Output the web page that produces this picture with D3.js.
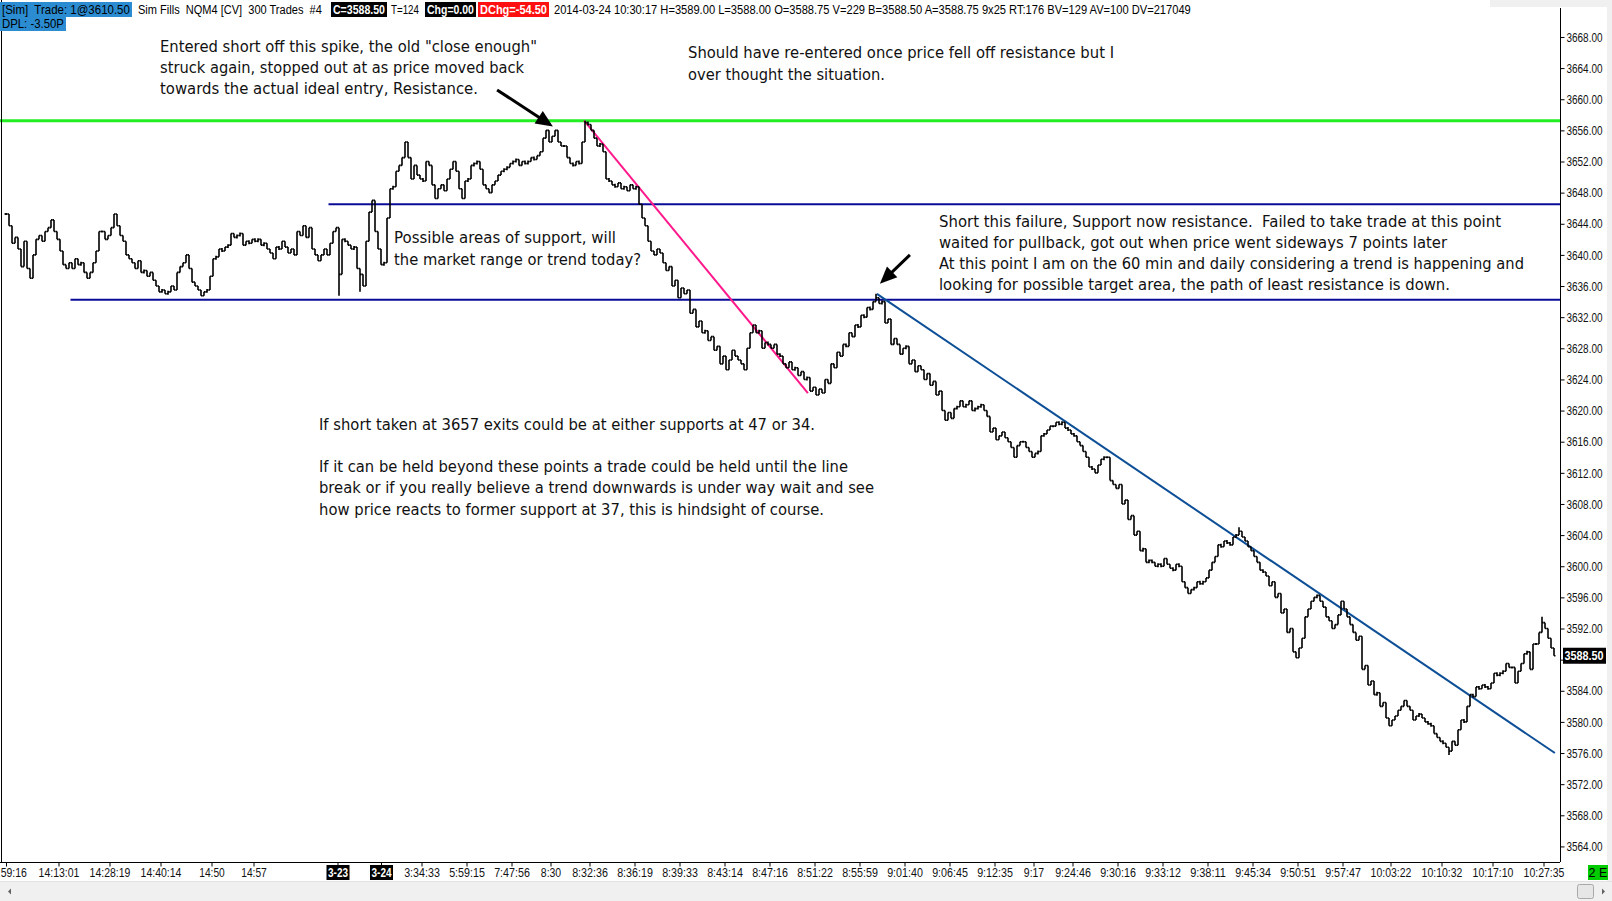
<!DOCTYPE html>
<html><head><meta charset="utf-8">
<script src="https://cdn.jsdelivr.net/npm/d3@7"></script>
<style>
html,body{margin:0;padding:0;background:#fff;overflow:hidden;}
svg{display:block;}
text{white-space:pre;}
</style></head>
<body>
<svg id="chart" width="1612" height="901"></svg>
<script>
// ---------------- DATA ----------------
// Close of each 300-tick bar (NQM4)
const closes = [
3645.25,3643.75,3641.5,3642.25,3640.75,3638.5,3641.75,3638.25,3637,3640,
3642,3642.5,3641.75,3643,3643.5,3644.5,3643,3642,3640.5,3638.75,
3638.25,3639,3638.25,3639.5,3638.75,3639,3637.75,3637,3637.75,3639,
3640.5,3643,3643,3642,3642.5,3643.5,3645.25,3643.75,3642.5,3641.75,
3640,3639.5,3639,3638.25,3639.25,3637.75,3638,3637.25,3637.75,3636.75,
3636,3635.25,3635.5,3635,3635.25,3636,3635.5,3637.75,3638.5,3639,
3640,3638.25,3636.5,3636,3635.5,3634.75,3635.25,3635.5,3637.25,3639.5,
3639.75,3640.75,3640.5,3641,3641.25,3642.75,3642.25,3642.5,3642.75,3641.25,
3641.75,3641.5,3642,3641.75,3642,3641.25,3641.5,3640.75,3640.25,3639.5,
3641,3640.75,3641.75,3641,3640.25,3640.75,3640,3643,3642.5,3643.75,
3642.25,3643.5,3640.75,3640,3639.25,3640,3640.75,3640,3641.5,3643,
3643.5,3637.5,3642,3641.75,3641.25,3640.75,3641,3638.25,3637.5,3636,
3641.75,3645.5,3647,3643,3640.75,3638.75,3639,3644.75,3648.5,3648.75,
3650.75,3651.5,3652.5,3654.5,3652.5,3649.75,3651.5,3650.25,3649.75,3649.5,
3652,3651.5,3649,3647.25,3648.5,3649,3648.25,3649.75,3651,3652,
3650.75,3648.5,3647.25,3649.5,3649.75,3651.5,3651.75,3652,3651,3649,
3648.5,3648,3649,3649.5,3650.25,3650.75,3651,3651.25,3651.75,3652,
3652.25,3651.5,3652,3651.75,3652,3652.5,3652.25,3652.75,3653.25,3655,
3656,3654.5,3655.25,3656,3654.5,3654,3654,3652.5,3651.75,3651.5,
3652,3651.75,3654.5,3657,3656.75,3656,3655,3654,3654.25,3653.25,
3649.75,3649.5,3649,3648.75,3649.25,3648.5,3648.75,3648.25,3649,3648.5,
3648.75,3646.5,3644.75,3643.75,3641.75,3640.5,3640,3640.75,3640.25,3639,
3638,3638.5,3636,3636.75,3634.5,3635.75,3635,3635.5,3632.5,3633,
3630.75,3631.5,3630,3630.25,3629,3629.5,3627.75,3628.25,3626,3627,
3625.25,3626.5,3627.75,3627,3626.5,3626,3625.25,3628,3630,3631,
3630,3630.25,3628,3628.75,3628.5,3628,3628.5,3627.25,3627,3626,
3625.5,3626.25,3625.25,3625.5,3624.5,3625,3624,3624.25,3622.5,3623,
3622,3622.75,3622.25,3624,3623.5,3626,3625.5,3627.5,3627,3628.5,
3628.25,3630,3629.5,3631,3630.75,3632.25,3632,3633.25,3633,3634,
3634.5,3633.75,3634,3631.25,3631.75,3628.5,3629.25,3628.5,3627.25,3628,
3628.25,3626,3626.5,3625,3625.75,3625.25,3624,3624.75,3623.25,3623.75,
3622,3622.5,3620,3618.75,3619.75,3619,3620.25,3620.5,3621.25,3620.5,
3620.75,3621.25,3620,3620.25,3620.5,3620.75,3620,3619.25,3617.25,3617.75,
3616.25,3616.75,3617.25,3616.5,3616,3615.25,3614,3615.5,3616,3616,
3615.25,3614.75,3614,3614.5,3614.75,3616.75,3617,3617.5,3618,3618,
3618.5,3618.25,3618.5,3617.75,3617.5,3617,3616.75,3616,3615.5,3614.75,
3614,3612.75,3612.5,3612,3613,3613.75,3614,3614,3611,3610.5,
3610,3610.5,3608,3608.5,3606,3606.5,3604,3604.5,3602,3602.25,
3600.5,3600.75,3600.5,3600,3600.25,3600,3601,3600.25,3599.75,3599.5,
3600.25,3600,3598,3597.25,3596.5,3597,3597.25,3598,3597.75,3598,
3598.5,3599.5,3600.5,3601.25,3602.75,3602.5,3603.25,3603,3602.75,3603.75,
3604,3604.5,3603.75,3603.25,3602.5,3602,3601.25,3600.5,3599.5,3599.25,
3598.75,3597.5,3598,3596,3596.5,3594,3594.5,3591.5,3592,3589,
3588.25,3589.5,3590.75,3593.5,3594.5,3595.5,3596,3596.25,3595.5,3594.75,
3593.5,3593,3592,3592.5,3593.75,3595.5,3594.5,3593.5,3592.5,3591.5,
3590.5,3591,3586.75,3587.25,3584.75,3585.25,3583.5,3583.75,3582,3582.5,
3580.5,3579.5,3580.25,3580.75,3581.5,3582,3582.75,3582,3581.5,3580.25,
3580.75,3581,3580.5,3580,3579.75,3579.5,3578.5,3578,3577.5,3577.25,
3576.75,3576.25,3577.5,3577,3579,3580.25,3580,3582,3583.5,3583.25,
3584.5,3584.25,3584.75,3584.5,3584.25,3585,3586.25,3586,3586.25,3586.5,
3587.5,3587,3587,3585,3586.5,3587.5,3588.75,3589,3586.75,3590,
3590,3591.5,3592.75,3592,3590.75,3589.5,3588.5
];
// bars whose wick reaches beyond open/close
const spikeIdx = [111, 118, 193, 290, 411, 481, 512];
const spikeVal = [3634.75, 3635.25, 3657.25, 3635, 3605, 3575.75, 3593.5];

// price axis ticks
const yTickValues = [3564,3568,3572,3576,3580,3584,3588,3592,3596,3600,3604,3608,3612,3616,
  3620,3624,3628,3632,3636,3640,3644,3648,3652,3656,3660,3664,3668];
// time axis ticks (bar index) and their labels
const xTickIdx = [0,17.5,34.5,51.5,68.5,82.5,110.5,125,138.5,153.5,168.5,181.5,194.5,209.5,
  224.5,239.5,254.5,269.5,284.5,299.5,314.5,329.5,342.5,355.5,370.5,385.5,400.5,415.5,430.5,
  445.5,461.5,478.5,495.5,512.5];
const xTickLabels = ["13:59:16","14:13:01","14:28:19","14:40:14","14:50","14:57","3-23","3-24",
  "3:34:33","5:59:15","7:47:56","8:30","8:32:36","8:36:19","8:39:33","8:43:14","8:47:16",
  "8:51:22","8:55:59","9:01:40","9:06:45","9:12:35","9:17","9:24:46","9:30:16","9:33:12",
  "9:38:11","9:45:34","9:50:51","9:57:47","10:03:22","10:10:32","10:17:10","10:27:35"];
const dateMarkers = ["3-23","3-24"];

// drawn horizontal levels (resistance, supports) and start bar
const levelValues = [3657.25, 3646.5, 3634.25];
const levelStart = [-3, 107.5, 21.5];
// drawn trend lines [barIndex, price]
const pinkLine = [[192.7, 3657.25], [267.3, 3622.25]];
const blueTrend = [[290.3, 3635], [516.3, 3576]];
// arrows [from, tip] in [barIndex, price]
const arrowFrom = [[163.7, 3661.2], [301.3, 3640.0]];
const arrowTip  = [[182.3, 3656.5], [291.3, 3636.3]];

const lastPrice = 3588.50;

const annotationText = [
  ['Entered short off this spike, the old "close enough"',
   'struck again, stopped out at as price moved back',
   'towards the actual ideal entry, Resistance.'],
  ['Should have re-entered once price fell off resistance but I',
   'over thought the situation.'],
  ['Possible areas of support, will',
   'the market range or trend today?'],
  ['Short this failure, Support now resistance.  Failed to take trade at this point',
   'waited for pullback, got out when price went sideways 7 points later',
   'At this point I am on the 60 min and daily considering a trend is happening and',
   'looking for possible target area, the path of least resistance is down.'],
  ['If short taken at 3657 exits could be at either supports at 47 or 34.',
   'If it can be held beyond these points a trade could be held until the line',
   'break or if you really believe a trend downwards is under way wait and see',
   'how price reacts to former support at 37, this is hindsight of course.']
];

const headerSegments = [
  {t:"[Sim]  Trade: 1@3610.50", bg:"#2b8cd2", fg:"#000"},
  {t:"Sim Fills  NQM4 [CV]  300 Trades  #4", bg:null, fg:"#000"},
  {t:"C=3588.50", bg:"#000", fg:"#fff", b:true},
  {t:"T=124", bg:null, fg:"#000"},
  {t:"Chg=0.00", bg:"#000", fg:"#fff", b:true},
  {t:"DChg=-54.50", bg:"#ff1010", fg:"#fff", b:true},
  {t:"2014-03-24 10:30:17 H=3589.00 L=3588.00 O=3588.75 V=229 B=3588.50 A=3588.75 9x25 RT:176 BV=129 AV=100 DV=217049", bg:null, fg:"#000"}
];
const header2 = {t:"DPL: -3.50P", bg:"#2b8cd2", fg:"#000"};

// ---------------- LAYOUT ----------------
const W = 1612, H = 901;
const plotRight = 1560, plotBottom = 862;
const headerLayout = [[0,132],[136,188],[331,56],[389,32],[425,51],[478,71],[552,641]];
const annLayout = [
  {x:160, ys:[46,67,88.5], ws:[377,364,318]},
  {x:688, ys:[52.5,74], ws:[426,197]},
  {x:394, ys:[237.5,259], ws:[222,247]},
  {x:939, ys:[221,242,263,284], ws:[562,508,585,511]},
  {x:319, ys:[424,466.5,487.5,509], ws:[496,529,555,505]}
];

const svg = d3.select('#chart');
svg.append('rect').attr('width', W).attr('height', H).attr('fill', '#fff');

const x = d3.scaleLinear().domain([0, closes.length - 1]).range([6, 6 + 3 * (closes.length - 1)]);
const y = d3.scaleLinear().domain([3562, 3672.75]).range([plotBottom, 0]);

svg.append('clipPath').attr('id','plotclip').append('rect')
  .attr('x',0).attr('y',0).attr('width',plotRight).attr('height',plotBottom);
const plot = svg.append('g').attr('clip-path','url(#plotclip)');

// horizontal levels
const levelColors = ['#22ee22', '#0b0b98', '#0b0b98'];
const levelWidths = [3, 2, 2];
levelValues.forEach((v, k) => {
  plot.append('line')
    .attr('x1', x(levelStart[k])).attr('x2', plotRight)
    .attr('y1', y(v)).attr('y2', y(v))
    .attr('stroke', levelColors[k]).attr('stroke-width', levelWidths[k]);
});

// trend lines
plot.append('line')
  .attr('x1', x(pinkLine[0][0])).attr('y1', y(pinkLine[0][1]))
  .attr('x2', x(pinkLine[1][0])).attr('y2', y(pinkLine[1][1]))
  .attr('stroke', '#ff1a8c').attr('stroke-width', 2);
plot.append('line')
  .attr('x1', x(blueTrend[0][0])).attr('y1', y(blueTrend[0][1]))
  .attr('x2', x(blueTrend[1][0])).attr('y2', y(blueTrend[1][1]))
  .attr('stroke', '#0d4f96').attr('stroke-width', 2);

// OHLC bars
const spikeMap = new Map(spikeIdx.map((d, k) => [d, spikeVal[k]]));
const bars = closes.map((c, i) => {
  const o = i === 0 ? c : closes[i - 1];
  let hi = Math.max(o, c), lo = Math.min(o, c);
  if (spikeMap.has(i)) { const s = spikeMap.get(i); hi = Math.max(hi, s); lo = Math.min(lo, s); }
  return {i, o, c, hi, lo};
});
const bg = plot.append('g').attr('stroke', '#000').attr('stroke-width', 1.6).attr('fill', 'none');
bg.selectAll('path').data(bars).join('path')
  .attr('d', d => {
    const xx = x(d.i);
    let y1 = y(d.hi), y2 = y(d.lo);
    if (y2 - y1 < 2) { y1 -= 1; y2 += 1; }
    return `M${xx},${y1}V${y2}M${xx - 1.5},${y(d.o)}H${xx}M${xx},${y(d.c)}H${xx + 1.5}`;
  });

// arrows
arrowFrom.forEach((f, k) => {
  const t = arrowTip[k];
  const x1 = x(f[0]), y1 = y(f[1]), x2 = x(t[0]), y2 = y(t[1]);
  const dx = x2 - x1, dy = y2 - y1, L = Math.hypot(dx, dy);
  const ux = dx / L, uy = dy / L, hl = 17, hw = 7.5;
  const bx = x2 - ux * hl, by = y2 - uy * hl;
  plot.append('line').attr('x1', x1).attr('y1', y1).attr('x2', bx + ux * 2).attr('y2', by + uy * 2)
    .attr('stroke', '#000').attr('stroke-width', 3);
  plot.append('path')
    .attr('d', `M${x2},${y2}L${bx - uy * hw},${by + ux * hw}L${bx + uy * hw},${by - ux * hw}Z`)
    .attr('fill', '#000');
});

// annotations
annotationText.forEach((lines, k) => {
  const L = annLayout[k];
  lines.forEach((ln, j) => {
    plot.append('text')
      .attr('x', L.x).attr('y', L.ys[j]).attr('dy', '0.36em')
      .attr('font-family', '"DejaVu Sans", Verdana, sans-serif')
      .attr('font-size', 15.5).attr('fill', '#111')
      .attr('textLength', L.ws[j]).attr('lengthAdjust', 'spacingAndGlyphs')
      .text(ln);
  });
});

// frame lines
svg.append('line').attr('x1', 1.5).attr('x2', 1.5).attr('y1', 0).attr('y2', plotBottom)
  .attr('stroke', '#000').attr('stroke-width', 1);
svg.append('line').attr('x1', 0).attr('x2', plotRight).attr('y1', plotBottom + 0.5).attr('y2', plotBottom + 0.5)
  .attr('stroke', '#000').attr('stroke-width', 1);
svg.append('line').attr('x1', plotRight + 0.5).attr('x2', plotRight + 0.5).attr('y1', 8).attr('y2', plotBottom)
  .attr('stroke', '#000').attr('stroke-width', 1);

const axisFont = '"Liberation Sans", Arial, sans-serif';
// right price axis (the 3588.00 label sits under the last-price marker)
const yAxis = svg.append('g').attr('transform', `translate(${plotRight + 0.5},0)`)
  .call(d3.axisRight(y).tickValues(yTickValues)
    .tickFormat(d => Math.abs(d - lastPrice) < 1 ? '' : d3.format('.2f')(d)).tickSize(4).tickPadding(2));
yAxis.select('.domain').remove();
yAxis.selectAll('line').attr('stroke', '#000');
yAxis.selectAll('text').attr('font-family', axisFont).attr('font-size', 13).attr('fill', '#111')
  .attr('textLength', 36).attr('lengthAdjust', 'spacingAndGlyphs');

// last price marker
svg.append('rect').attr('x', plotRight + 3).attr('y', y(lastPrice) - 8).attr('width', 43).attr('height', 16).attr('fill', '#000');
svg.append('text').attr('x', plotRight + 4.5).attr('y', y(lastPrice)).attr('dy', '0.36em')
  .attr('font-family', axisFont).attr('font-weight', 'bold').attr('font-size', 13).attr('fill', '#fff')
  .attr('textLength', 39).attr('lengthAdjust', 'spacingAndGlyphs').text(d3.format('.2f')(lastPrice));

// bottom time axis
const xAxis = svg.append('g').attr('transform', `translate(0,${plotBottom + 0.5})`)
  .call(d3.axisBottom(x).tickValues(xTickIdx).tickFormat((d, k) => xTickLabels[k]).tickSize(4).tickPadding(4));
xAxis.select('.domain').remove();
xAxis.selectAll('line').attr('stroke', '#000');
xAxis.selectAll('.tick').each(function (d, k) {
  const g = d3.select(this);
  const lab = xTickLabels[k];
  const t = g.select('text');
  t.attr('font-family', axisFont).attr('font-size', 13).attr('fill', '#111')
    .attr('y', 10).attr('dy', '0.36em')
    .attr('textLength', lab.length * 5.1).attr('lengthAdjust', 'spacingAndGlyphs');
  if (dateMarkers.includes(lab)) {
    g.insert('rect', 'text').attr('x', -11.5).attr('y', 2.5).attr('width', 23).attr('height', 15).attr('fill', '#000');
    t.attr('fill', '#fff').attr('font-weight', 'bold').attr('textLength', 20);
  }
});

// header: condensed by horizontal scaling so each segment fits its slot
const headerFont = '"Liberation Sans", Arial, sans-serif';
function headerText(s, hx, hw, ty) {
  const t = svg.append('text').attr('x', 0).attr('y', 0)
    .attr('font-family', headerFont).attr('font-size', 12.5).attr('fill', s.fg)
    .attr('font-weight', s.b ? 'bold' : 'normal').text(s.t);
  const nat = t.node().getComputedTextLength();
  const sx = Math.min(1, (hw - 4) / nat);
  t.attr('transform', `translate(${hx + 2},${ty}) scale(${sx},1)`);
}
headerSegments.forEach((s, k) => {
  const [hx, hw] = headerLayout[k];
  if (s.bg) svg.append('rect').attr('x', hx).attr('y', 2).attr('width', hw).attr('height', 15).attr('fill', s.bg);
  headerText(s, hx, hw, 14);
});
svg.append('rect').attr('x', 0).attr('y', 17).attr('width', 66).attr('height', 14).attr('fill', header2.bg);
headerText(header2, 0, 66, 28);

// window chrome: top-right strip, right strip, scrollbar, "2 E" box
svg.append('rect').attr('x', 1490).attr('y', 0).attr('width', 122).attr('height', 7).attr('fill', '#f0f0f0');
svg.append('rect').attr('x', 1607).attr('y', 0).attr('width', 5).attr('height', 881).attr('fill', '#f0f0f0');
svg.append('rect').attr('x', 0).attr('y', 881).attr('width', W).attr('height', 20).attr('fill', '#f0f0f0');
svg.append('line').attr('x1', 0).attr('x2', W).attr('y1', 881.5).attr('y2', 881.5).attr('stroke', '#e2e2e2');
svg.append('path').attr('d', 'M8,891.5L11,888.5V894.5Z').attr('fill', '#606060');
svg.append('path').attr('d', 'M1602,888.5L1605,891.5L1602,894.5Z').attr('fill', '#606060');
svg.append('rect').attr('x', 1577.5).attr('y', 884.5).attr('width', 16).attr('height', 14).attr('rx', 2)
  .attr('fill', '#e6e6e6').attr('stroke', '#a8a8a8');
svg.append('rect').attr('x', 1588).attr('y', 865).attr('width', 20).attr('height', 15).attr('fill', '#00cc00');
svg.append('text').attr('x', 1598).attr('y', 872.5).attr('dy', '0.36em').attr('text-anchor', 'middle')
  .attr('font-family', axisFont).attr('font-size', 12.5).attr('fill', '#000').text('2 E');
</script>
</body></html>
